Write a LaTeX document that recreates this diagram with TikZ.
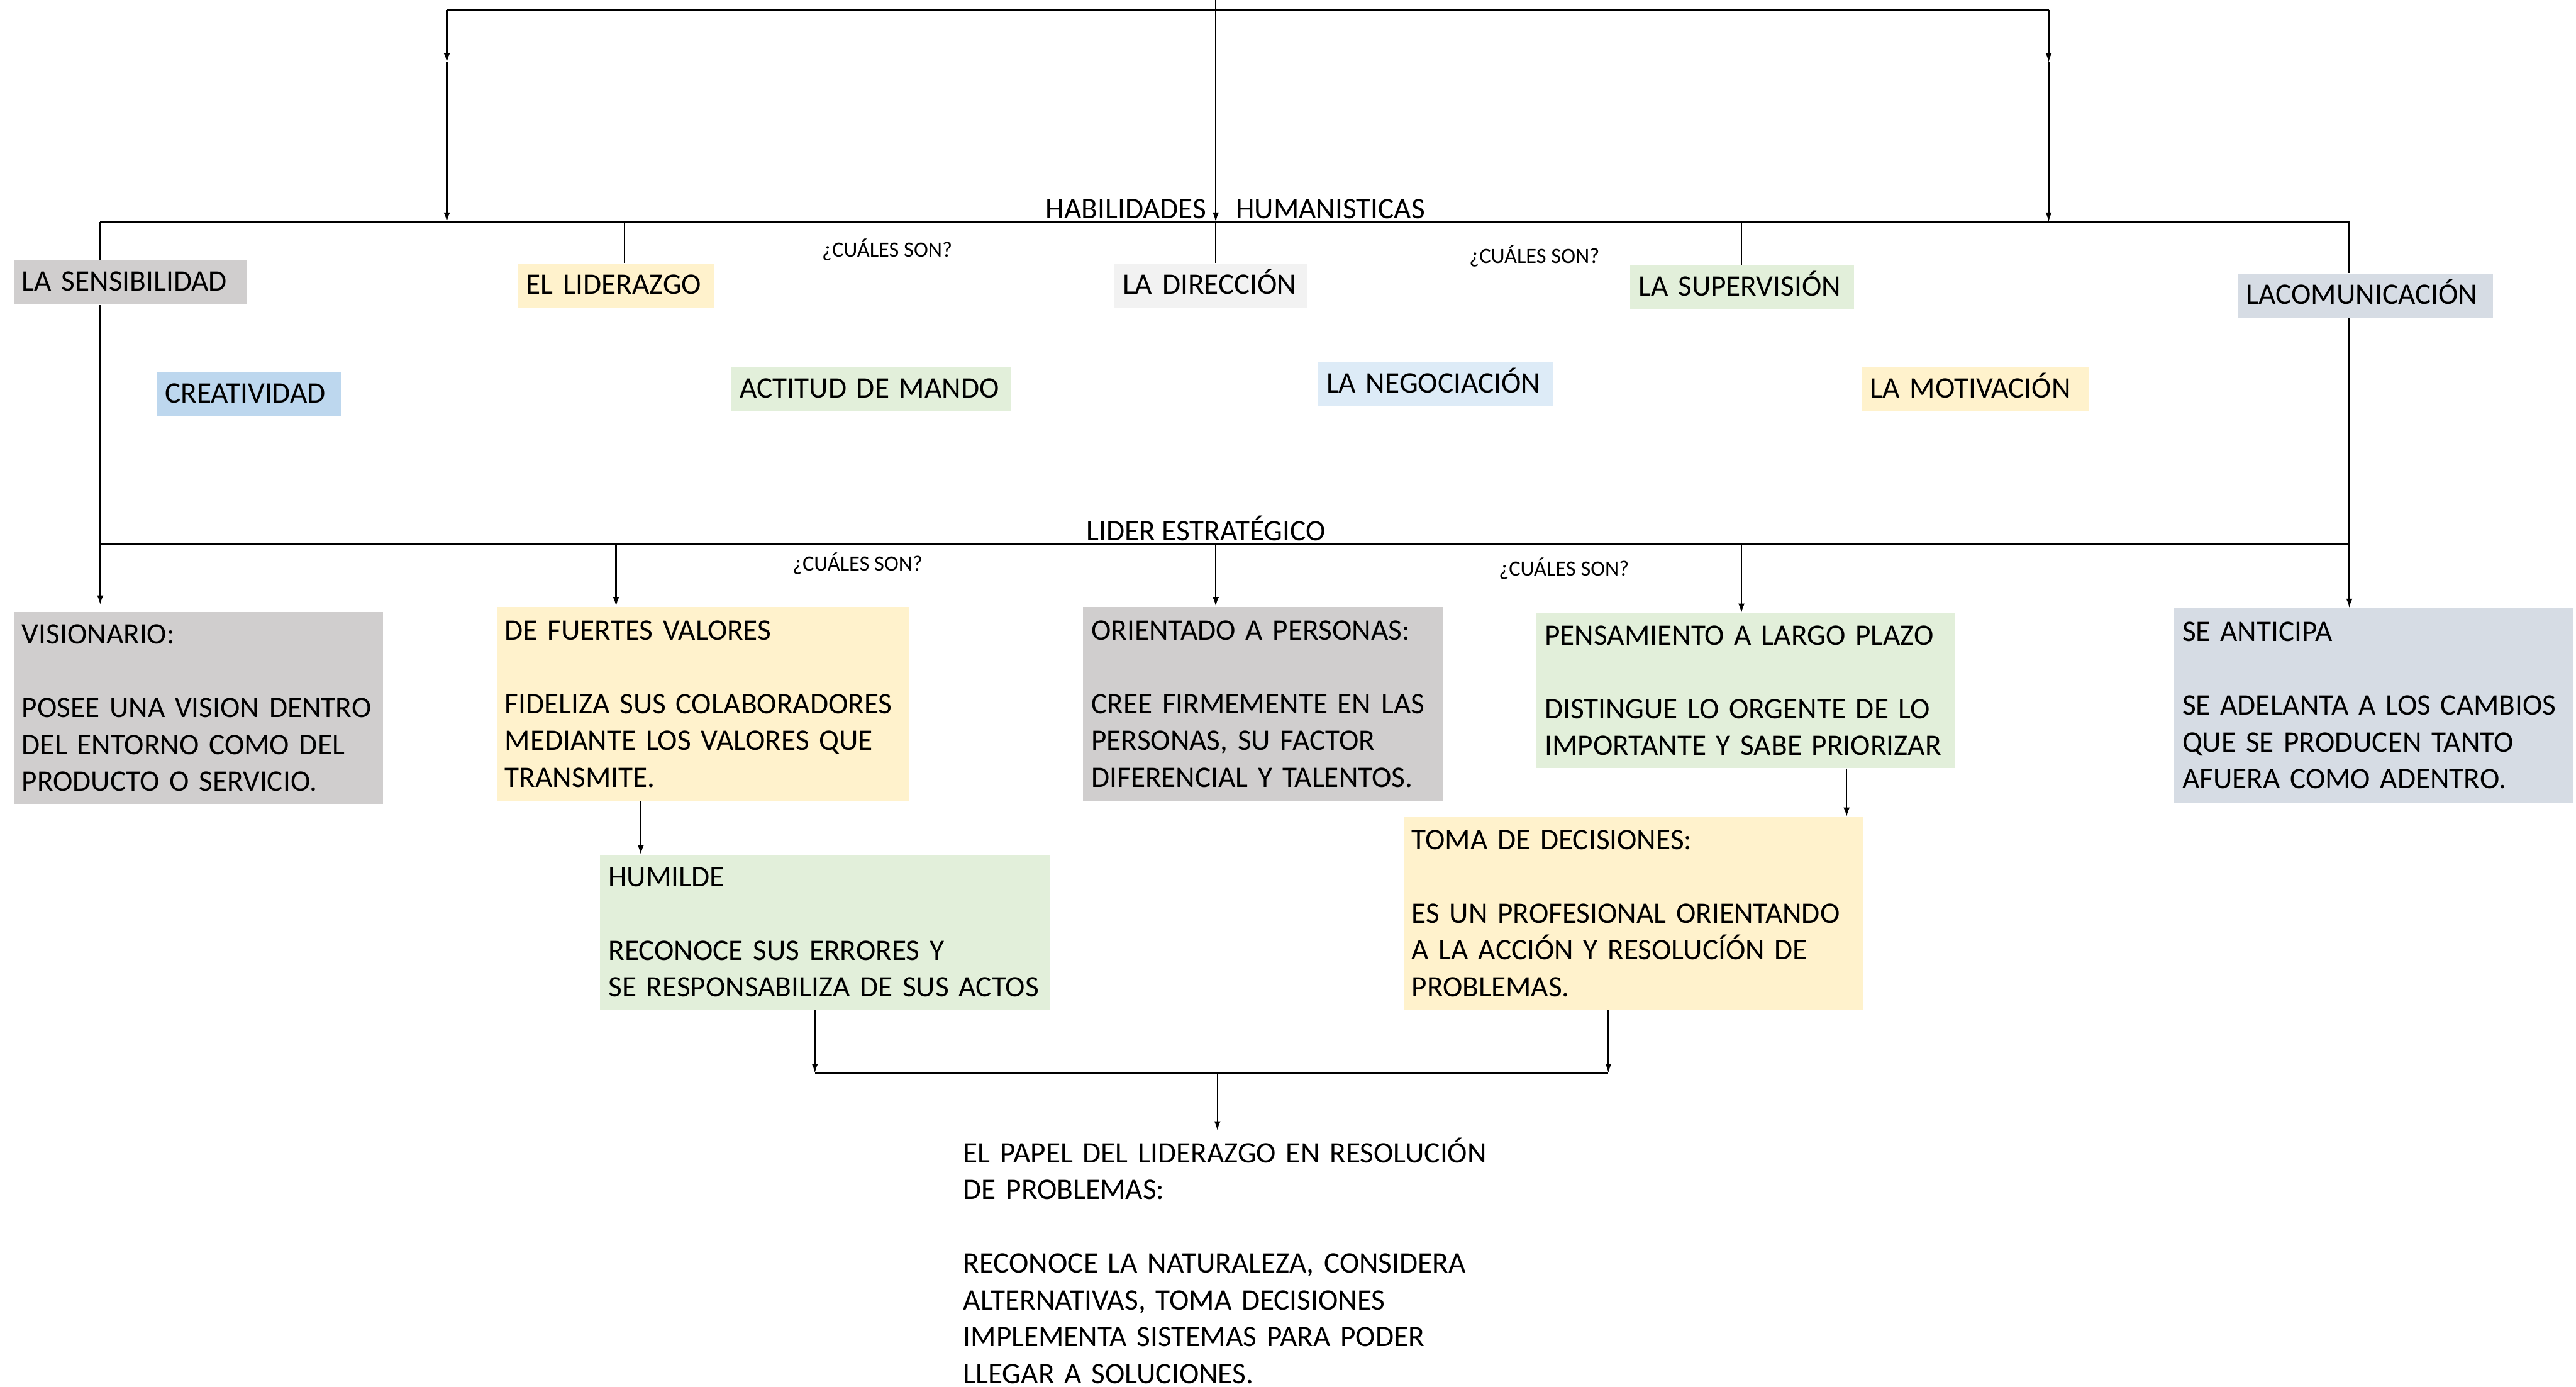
\documentclass[tikz,border=0pt]{standalone}
\usepackage{fontspec}
\setmainfont{Carlito}
\usetikzlibrary{arrows.meta}
\definecolor{cgray}{HTML}{D0CECE}
\definecolor{cyel}{HTML}{FFF2CC}
\definecolor{cgreen}{HTML}{E2EFDA}
\definecolor{clgray}{HTML}{F2F2F2}
\definecolor{cbgray}{HTML}{D6DCE4}
\definecolor{cblue}{HTML}{BDD7EE}
\definecolor{clblue}{HTML}{DDEBF7}
\newcommand\tline[1]{\mbox{#1}}
\begin{document}
\begin{tikzpicture}[x=0.02cm,y=-0.02cm,
  every node/.style={font=\fontsize{10.3}{12.75}\selectfont},
  box/.style={anchor=north west, inner xsep=0.1cm, inner ysep=0pt, align=left, fill=#1},
  one/.style={text height=7.5pt, text depth=1.5pt},
  qlab/.style={font=\fontsize{7.5}{9}\selectfont, inner sep=0pt},
  tlab/.style={anchor=base, inner sep=0pt},
  trunk/.style={line width=0.8pt},
  conn/.style={line width=0.5pt},
  arr/.style={conn,-{Latex[length=3.2pt,width=2.2pt]}}]
\useasboundingbox (0,0) rectangle (1568,844);

% first row boxes
\node[box=cgray, one, text width=2.64cm, minimum height=0.54cm] (sens) at (8,158) {\tline{LA SENSIBILIDAD}};
\node[box=cyel, one, text width=2.18cm, minimum height=0.54cm] (lid) at (315,160) {\tline{EL LIDERAZGO}};
\node[box=clgray, one, text width=2.14cm, minimum height=0.54cm] (dir) at (678,160) {\tline{LA DIRECCIÓN}};
\node[box=cgreen, one, text width=2.52cm, minimum height=0.54cm] (sup) at (992,161) {\tline{LA SUPERVISIÓN}};
\node[box=cbgray, one, text width=2.90cm, minimum height=0.54cm] (com) at (1362,166) {\tline{LACOMUNICACIÓN}};
% second row boxes
\node[box=cblue, one, text width=2.04cm, minimum height=0.54cm] (crea) at (95,226) {\tline{CREATIVIDAD}};
\node[box=cgreen, one, text width=3.20cm, minimum height=0.54cm] (act) at (445,223) {\tline{ACTITUD DE MANDO}};
\node[box=clblue, one, text width=2.66cm, minimum height=0.54cm] (neg) at (802,220) {\tline{LA NEGOCIACIÓN}};
\node[box=cyel, one, text width=2.56cm, minimum height=0.54cm] (mot) at (1133,223) {\tline{LA MOTIVACIÓN}};

% big boxes
\node[box=cgray, text width=4.30cm, minimum height=2.34cm] (vis) at (8,372)
  {\tline{VISIONARIO:}\\[12.75pt]\tline{POSEE UNA VISION DENTRO}\\\tline{DEL ENTORNO COMO DEL}\\\tline{PRODUCTO O SERVICIO.}};
\node[box=cyel, text width=4.82cm, minimum height=2.36cm] (val) at (302,369)
  {\tline{DE FUERTES VALORES}\\[12.75pt]\tline{FIDELIZA SUS COLABORADORES}\\\tline{MEDIANTE LOS VALORES QUE}\\\tline{TRANSMITE.}};
\node[box=cgray, text width=4.18cm, minimum height=2.36cm] (ori) at (659,369)
  {\tline{ORIENTADO A PERSONAS:}\\[12.75pt]\tline{CREE FIRMEMENTE EN LAS}\\\tline{PERSONAS, SU FACTOR}\\\tline{DIFERENCIAL Y TALENTOS.}};
\node[box=cgreen, text width=4.90cm, minimum height=1.88cm] (pen) at (935,373)
  {\tline{PENSAMIENTO A LARGO PLAZO}\\[12.75pt]\tline{DISTINGUE LO ORGENTE DE LO}\\\tline{IMPORTANTE Y SABE PRIORIZAR}};
\node[box=cbgray, text width=4.66cm, minimum height=2.36cm] (ant) at (1323,370)
  {\tline{SE ANTICIPA}\\[12.75pt]\tline{SE ADELANTA A LOS CAMBIOS}\\\tline{QUE SE PRODUCEN TANTO}\\\tline{AFUERA COMO ADENTRO.}};
\node[box=cgreen, text width=5.28cm, minimum height=1.88cm] (hum) at (365,520)
  {\tline{HUMILDE}\\[12.75pt]\tline{RECONOCE SUS ERRORES Y}\\\tline{SE RESPONSABILIZA DE SUS ACTOS}};
\node[box=cyel, text width=5.40cm, minimum height=2.34cm] (toma) at (854,497)
  {\tline{TOMA DE DECISIONES:}\\[12.75pt]\tline{ES UN PROFESIONAL ORIENTANDO}\\\tline{A LA ACCIÓN Y RESOLUCÍÓN DE}\\\tline{PROBLEMAS.}};
\node[anchor=north west, inner xsep=0.1cm, inner ysep=0.08cm, align=left, text width=7cm] (papel) at (581,688)
  {\tline{EL PAPEL DEL LIDERAZGO EN RESOLUCIÓN}\\\tline{DE PROBLEMAS:}\\[12.75pt]\tline{RECONOCE LA NATURALEZA, CONSIDERA}\\\tline{ALTERNATIVAS, TOMA DECISIONES}\\\tline{IMPLEMENTA SISTEMAS PARA PODER}\\\tline{LLEGAR A SOLUCIONES.}};

% labels
\node[tlab] (habl) at (752,133) {HABILIDADES\quad HUMANISTICAS};
\node[tlab] (lidl) at (734,329) {LIDER ESTRATÉGICO};
\node[qlab] (q1) at (540,152) {¿CUÁLES SON?};
\node[qlab] (q2) at (934,156) {¿CUÁLES SON?};
\node[qlab] (q3) at (522,343) {¿CUÁLES SON?};
\node[qlab] (q4) at (952,346) {¿CUÁLES SON?};

% coordinates
\coordinate (t0) at (740,0);
\coordinate (tl) at (272,6);
\coordinate (tr) at (1247,6);
\coordinate (tlm) at (272,38);
\coordinate (trm) at (1247,38);
\coordinate (hl) at (61,135);
\coordinate (hr) at (1430,135);
\coordinate (hd) at (740,135);
\coordinate (h272) at (272,135);
\coordinate (h1247) at (1247,135);
\coordinate (h380) at (380,135);
\coordinate (h1060) at (1060,135);
\coordinate (ll) at (61,331);
\coordinate (lr) at (1430,331);
\coordinate (l375) at (375,331);
\coordinate (l740) at (740,331);
\coordinate (l1060) at (1060,331);
\coordinate (v390) at (390,500);
\coordinate (v1124) at (1124,480);
\coordinate (bl) at (496,653);
\coordinate (br) at (979,653);
\coordinate (bm) at (741,653);

% top
\draw[trunk] (tl) -- (tr);
\draw[arr] (t0) -- (hd);
\draw[arr] (tl) -- (tlm);
\draw[arr] (tlm) -- (h272);
\draw[arr] (tr) -- (trm);
\draw[arr] (trm) -- (h1247);
% habilidades
\draw[trunk] (hl) -- (hr);
\draw[conn] (hl) -- (hl |- sens.north);
\draw[conn] (h380) -- (h380 |- lid.north);
\draw[conn] (hd) -- (hd |- dir.north);
\draw[conn] (h1060) -- (h1060 |- sup.north);
\draw[conn] (hr) -- (hr |- com.north);
\draw[conn] (hl |- sens.south) -- (ll);
\draw[conn] (hr |- com.south) -- (lr);
% lider
\draw[trunk] (ll) -- (lr);
\draw[arr, shorten >=0.08cm] (ll) -- (ll |- vis.north);
\draw[arr] (l375) -- (l375 |- val.north);
\draw[arr] (l740) -- (l740 |- ori.north);
\draw[arr] (l1060) -- (l1060 |- pen.north);
\draw[arr] (lr) -- (lr |- ant.north);
\draw[arr] (v390 |- val.south) -- (v390 |- hum.north);
\draw[arr] (v1124 |- pen.south) -- (v1124 |- toma.north);
% bottom
\draw[arr] (bl |- hum.south) -- (bl);
\draw[arr] (br |- toma.south) -- (br);
\draw[trunk] (bl) -- (br);
\draw[arr] (bm) -- (bm |- papel.north);
\end{tikzpicture}
\end{document}
